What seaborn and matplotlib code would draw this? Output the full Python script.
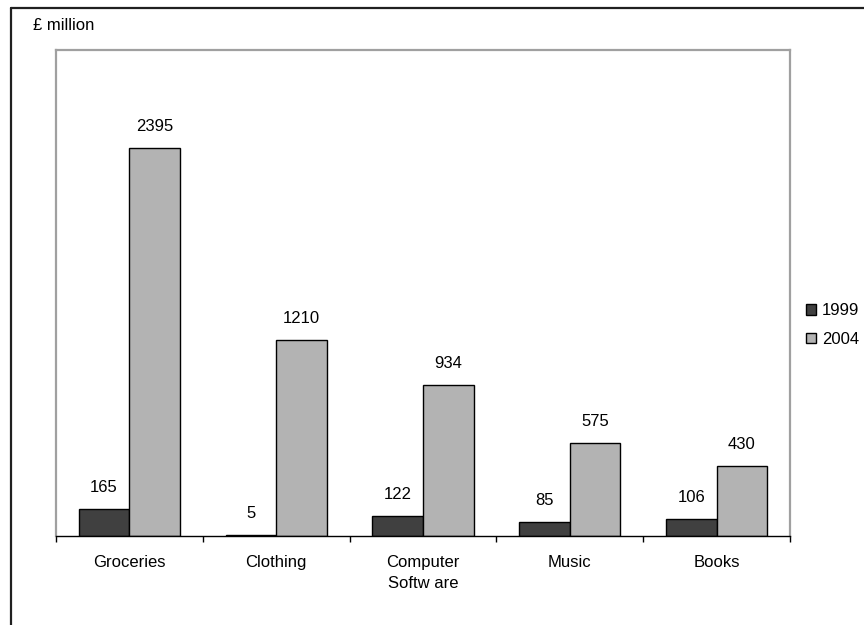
import matplotlib
matplotlib.use("Agg")
import matplotlib.pyplot as plt
from matplotlib.lines import Line2D
from matplotlib.patches import Patch
import numpy as np
import pandas as pd
import seaborn as sns

categories = ["Groceries", "Clothing", "Computer\nSoftw are", "Music", "Books"]
sales_1999 = [165, 5, 122, 85, 106]
sales_2004 = [2395, 1210, 934, 575, 430]
years = ["1999", "2004"]
colors = ["#404040", "#b3b3b3"]

df = pd.DataFrame({
    "category": categories * 2,
    "year": [years[0]] * len(categories) + [years[1]] * len(categories),
    "value": sales_1999 + sales_2004,
})

sns.set_style("white")
plt.rcParams["font.family"] = ["Liberation Sans", "DejaVu Sans"]
plt.rcParams["text.color"] = "black"
plt.rcParams["xtick.color"] = "black"
plt.rcParams["xtick.labelcolor"] = "black"
FS = 12

fig = plt.figure(figsize=(8.64, 6.25), dpi=100)
ax = fig.add_axes([56 / 864, 1 - 536 / 625, 734 / 864, 486 / 625])

sns.barplot(data=df, x="category", y="value", hue="year", order=categories,
            hue_order=years, palette=colors, width=0.69, edgecolor="black",
            linewidth=1.0, saturation=1, legend=False, ax=ax)

ax.set_ylim(0, 3000)
ax.set_xlim(-0.5, len(categories) - 0.5)
ax.set_xlabel("")
ax.set_ylabel("")
ax.set_yticks([])

# category labels centred, separator ticks between groups
ax.set_xticks(range(len(categories)))
ax.set_xticklabels(categories, fontsize=FS, linespacing=1.55)
ax.tick_params(axis="x", which="major", length=0, pad=13.5)
ax.set_xticks(np.arange(-0.5, len(categories), 1), minor=True)
ax.tick_params(axis="x", which="minor", length=4, width=1, color="black",
               direction="out", bottom=True)

for side in ["top", "right", "left"]:
    ax.spines[side].set_color("#a0a0a0")
    ax.spines[side].set_linewidth(1.6)
ax.spines["bottom"].set_color("black")
ax.spines["bottom"].set_linewidth(1.0)
ax.spines["bottom"].set_zorder(5)

# value labels above each bar
for container in ax.containers:
    ax.bar_label(container, fmt="%d", padding=10, fontsize=FS, color="black")

fig.text(33 / 864, 1 - 25 / 625, "£ million", fontsize=FS, va="center", ha="left")

# outer chart frame
fig.add_artist(Line2D([11 / 864, 1.0], [1 - 8 / 625, 1 - 8 / 625],
                      transform=fig.transFigure, color="#202020", linewidth=1.6))
fig.add_artist(Line2D([11 / 864, 11 / 864], [0.0, 1 - 8 / 625],
                      transform=fig.transFigure, color="#202020", linewidth=1.6))

handles = [Patch(facecolor=c, edgecolor="black", linewidth=1.0) for c in colors]
fig.legend(handles, years, loc="center left", bbox_to_anchor=(806 / 864, 1 - 325 / 625),
           frameon=False, fontsize=FS, handlelength=0.6, handleheight=0.6,
           handletextpad=0.35, labelspacing=0.8, borderaxespad=0, borderpad=0)

fig.savefig("out.png", dpi=100)
